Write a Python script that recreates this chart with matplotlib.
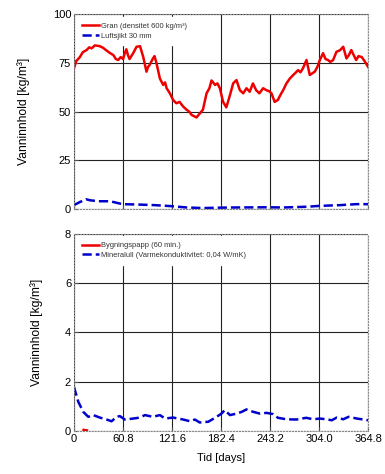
import matplotlib
matplotlib.use("Agg")
import matplotlib.pyplot as plt

plt.rcParams['font.family'] = ['Liberation Sans', 'DejaVu Sans']

# top panel: Gran (red) and Luftsjikt (blue)
gran_days = [0, 3, 7.4, 11, 15.7, 19, 22, 26, 32, 36, 40, 45, 49, 52, 55, 58, 61, 63, 65, 67, 69,
             73.5, 77.7, 82, 86, 90, 92, 94, 98, 100, 102.5, 106.6, 110.7, 113, 115, 119, 123, 127,
             131, 135.5, 139.7, 143, 146, 152, 156, 160, 164.5, 168, 170.7, 175, 178, 181, 185, 189,
             193, 197.5, 201.6, 205.8, 210, 214, 218, 222, 226, 230, 234.7, 238.8, 242, 245, 249,
             253, 256, 259.5, 263.6, 267.8, 272, 275, 278, 281, 284, 288.4, 292.5, 295, 298.7, 302,
             305, 309, 312, 315, 318, 321.5, 325.6, 330, 334, 338, 341, 344, 347, 350, 353, 357,
             361, 364.8]
gran_vals = [72.2, 76, 78, 80.5, 81.6, 83, 82.5, 84, 83.6, 82.8, 81.5, 80, 79, 77, 76.5, 78, 77, 80,
             82, 79, 77, 80, 83.3, 83.6, 78, 70.5, 73, 74, 77.3, 78.5, 74.7, 67, 63.7, 65, 62, 59.4,
             56, 54.3, 55, 52.6, 51, 50, 48.3, 47, 49, 51, 59.4, 62, 66, 63.7, 64.5, 62, 55, 52.2,
             57.7, 64.5, 66.2, 61, 59.4, 62, 60.2, 64.5, 61, 59.4, 62, 61, 60.5, 59.4, 55, 56, 58.5,
             61, 64.5, 67, 68.8, 70, 71.3, 70.2, 72.2, 76.5, 68.8, 69.5, 70.5, 73, 76.5, 80, 77,
             76.5, 75.5, 76.5, 80.7, 81.5, 83.3, 77.3, 79, 81.6, 79, 76.5, 78.5, 78, 75.6, 73]

luft_days = [0, 7, 15, 20, 30, 45, 55, 60, 80, 100, 120, 140, 160, 180, 200, 240, 260, 290, 304,
             330, 350, 364.8]
luft_vals = [2, 3.5, 5, 4.5, 4, 4, 3, 2.5, 2.3, 2, 1.5, 0.8, 0.5, 0.7, 0.8, 0.9, 0.8, 1.2, 1.6,
             2.0, 2.5, 2.5]

# bottom panel: Bygningspapp (red) and Mineralull (blue)
papp_days = [12, 16]
papp_vals = [0.04, 0.02]

mineral_days = [0, 5.4, 11.6, 17.8, 24, 32, 40.5, 46.7, 53, 57, 63, 73.6, 82, 88, 98, 106.6, 113,
                123, 135.6, 144, 150, 156, 166.7, 177, 183, 187, 193.6, 201.8, 208, 214, 222.5,
                230.7, 239, 247, 253, 263.6, 276, 288, 297, 305, 313, 319.8, 326, 334, 340.6, 351,
                359, 364.8]
mineral_vals = [1.79, 1.18, 0.77, 0.57, 0.64, 0.54, 0.46, 0.39, 0.57, 0.6, 0.46, 0.5, 0.54, 0.64,
                0.57, 0.64, 0.5, 0.54, 0.46, 0.39, 0.46, 0.34, 0.37, 0.57, 0.7, 0.84, 0.64, 0.7,
                0.77, 0.87, 0.77, 0.7, 0.73, 0.68, 0.53, 0.47, 0.46, 0.53, 0.47, 0.5, 0.47, 0.43,
                0.54, 0.47, 0.57, 0.5, 0.46, 0.43]

xticks = [0, 60.8, 121.6, 182.4, 243.2, 304.0, 364.8]
xtick_labels = ['0', '60.8', '121.6', '182.4', '243.2', '304.0', '364.8']

fig = plt.figure(figsize=(3.85, 4.74), dpi=100)
ax1 = fig.add_axes([0.192, 0.559, 0.764, 0.411])
ax2 = fig.add_axes([0.192, 0.091, 0.764, 0.416])


def style(ax, ymax, yticks):
    ax.set_xlim(0, 364.8)
    ax.set_ylim(0, ymax)
    ax.set_xticks(xticks)
    ax.set_yticks(yticks)
    ax.grid(True, color='#222222', linewidth=0.8, linestyle='-')
    ax.set_axisbelow(True)
    for s in ax.spines.values():
        s.set_color('#888888')
        s.set_linewidth(0.8)
        s.set_linestyle(':')
    ax.tick_params(direction='in', length=3, labelsize=8, color='#555555', pad=2)
    ax.set_ylabel('Vanninnhold [kg/m³]', fontsize=8.7, labelpad=16)


ax1.plot(gran_days, gran_vals, color='#ee0000', linewidth=1.8, label='Gran (densitet 600 kg/m³)')
ax1.plot(luft_days, luft_vals, color='#0000cc', linewidth=1.8, linestyle='--',
         label='Luftsjikt 30 mm')
style(ax1, 100, [0, 25, 50, 75, 100])
ax1.set_xticklabels([])

ax2.plot(papp_days, papp_vals, color='#ee0000', linewidth=1.8, label='Bygningspapp (60 min.)')
ax2.plot(mineral_days, mineral_vals, color='#0000cc', linewidth=1.8, linestyle='--',
         label='Mineralull (Varmekonduktivitet: 0,04 W/mK)')
style(ax2, 8, [0, 2, 4, 6, 8])
ax2.set_xticklabels(xtick_labels)
ax2.set_xlabel('Tid [days]', fontsize=8, labelpad=7)

for ax in (ax1, ax2):
    leg = ax.legend(loc='upper left', fontsize=5.4, frameon=True, handlelength=2.2,
                    handletextpad=0.3, borderaxespad=0.5, labelspacing=0.35,
                    borderpad=0.6)
    leg.get_frame().set_edgecolor('white')
    leg.get_frame().set_facecolor('white')
    leg.get_frame().set_alpha(1)
    leg.get_frame().set_boxstyle('square', pad=0.15)
    leg.set_zorder(1)
    for t in leg.get_texts():
        t.set_color('#333333')

fig.savefig('out.png', dpi=100)
